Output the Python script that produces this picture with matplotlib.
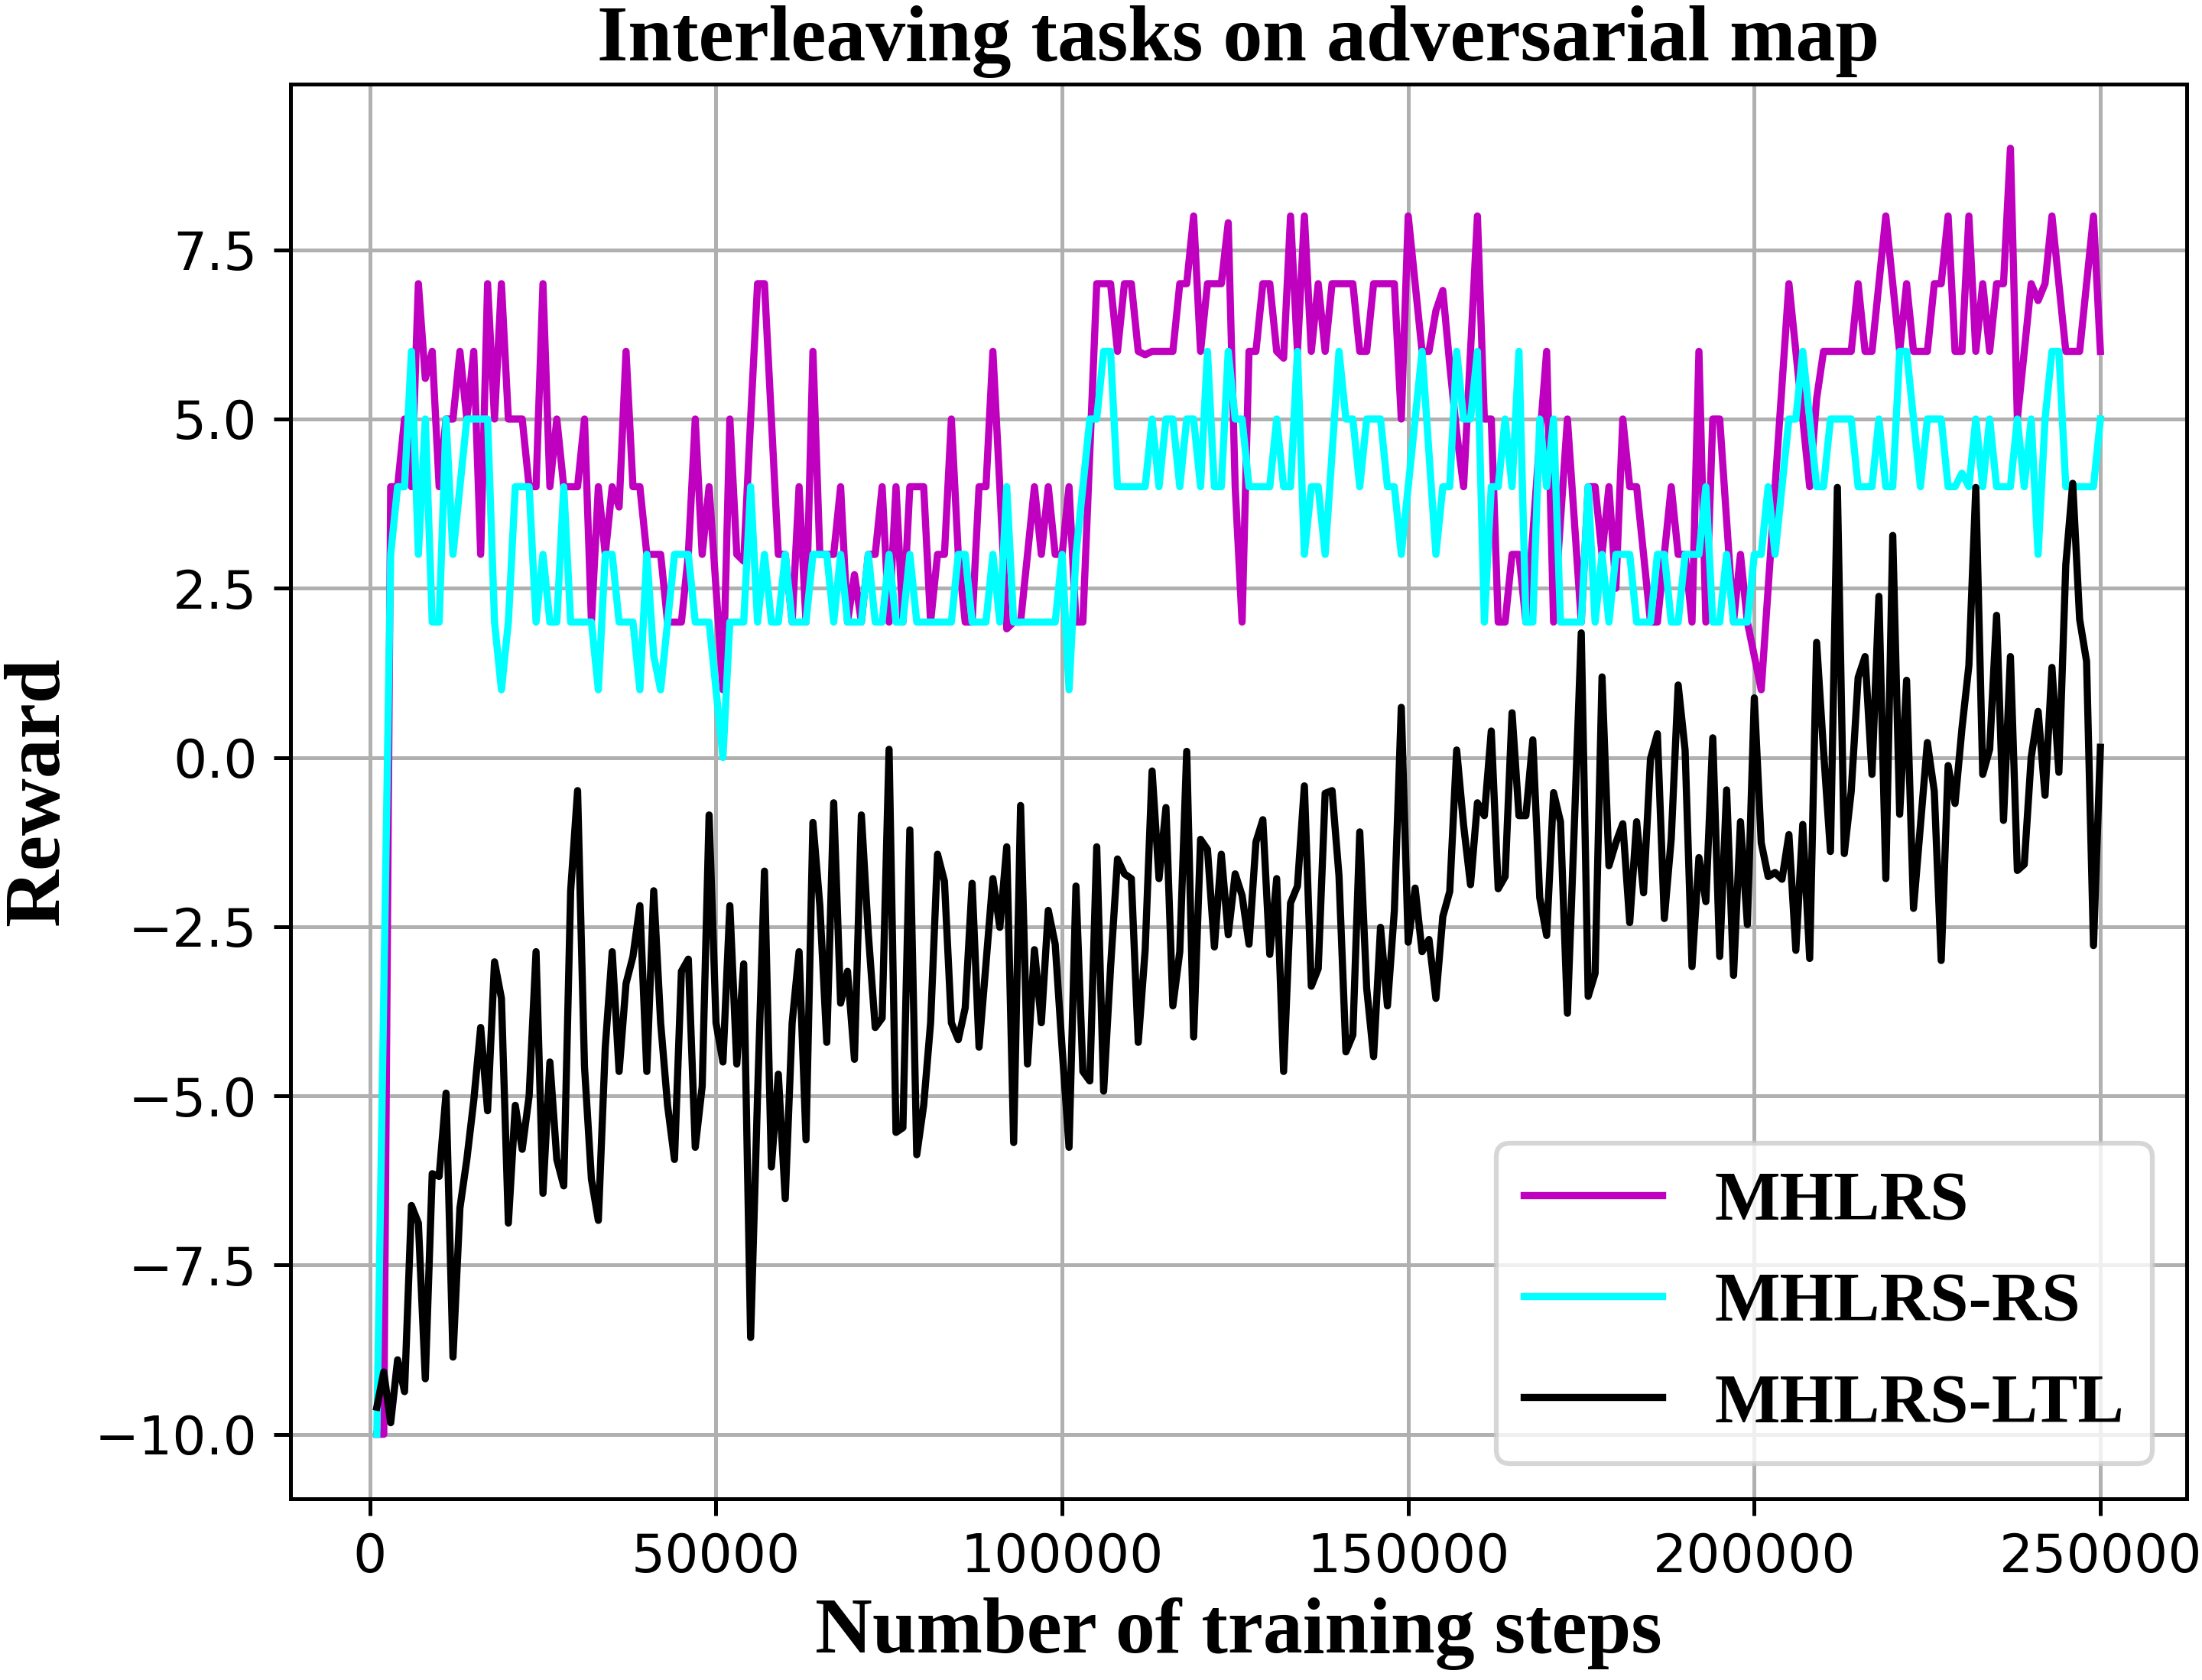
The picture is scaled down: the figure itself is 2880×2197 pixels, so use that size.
import numpy as np
import matplotlib
matplotlib.use("Agg")
import matplotlib.pyplot as plt

steps = np.arange(1, 251) * 1000

mhlrs = [
    -10, -10, 4, 4, 5, 4, 7, 5.6, 6, 4, 5, 5, 6, 5, 6, 3, 7, 5, 7, 5,
    5, 5, 4, 4, 7, 4, 5, 4, 4, 4, 5, 2, 4, 3, 4, 3.7, 6, 4, 4, 3,
    3, 3, 2, 2, 2, 3, 5, 3, 4, 2.5, 1, 5, 3, 2.9, 5, 7, 7, 5, 3, 3,
    2, 4, 2, 6, 3, 3, 3, 4, 2, 2.7, 2, 3, 3, 4, 2, 4, 2, 4, 4, 4,
    2, 3, 3, 5, 3, 2, 2, 4, 4, 6, 4, 1.9, 2, 2, 3, 4, 3, 4, 3, 3,
    4, 2, 2, 4.5, 7, 7, 7, 6, 7, 7, 6, 5.95, 6, 6, 6, 6, 7, 7, 8, 6,
    7, 7, 7, 7.9, 4, 2, 6, 6, 7, 7, 6, 5.9, 8, 6, 8, 6, 7, 6, 7, 7,
    7, 7, 6, 6, 7, 7, 7, 7, 5, 8, 7, 6, 6, 6.6, 6.9, 5.8, 4.8, 4, 6, 8,
    5, 5, 2, 2, 3, 3, 2, 3.3, 4.7, 6, 2, 3.5, 5, 3.5, 2, 4, 4, 3, 4, 2.5,
    5, 4, 4, 3, 2, 2, 3, 4, 3, 3, 2, 6, 2, 5, 5, 3.5, 2, 3, 2, 1.5,
    1, 2.5, 4, 5.5, 7, 6, 5, 4, 5.3, 6, 6, 6, 6, 6, 7, 6, 6, 7, 8, 7,
    6, 7, 6, 6, 6, 7, 7, 8, 6, 6, 8, 6, 7, 6, 7, 7, 9, 5, 6, 7,
    6.75, 7, 8, 7, 6, 6, 6, 7, 8, 6,
]

mhlrs_rs = [
    -10, -3.5, 3, 4, 4, 6, 3, 5, 2, 2, 5, 3, 4, 5, 5, 5, 5, 2, 1, 2,
    4, 4, 4, 2, 3, 2, 2, 4, 2, 2, 2, 2, 1, 3, 3, 2, 2, 2, 1, 3,
    1.5, 1, 2, 3, 3, 3, 2, 2, 2, 1, 0, 2, 2, 2, 4, 2, 3, 2, 2, 3,
    2, 2, 2, 3, 3, 3, 2, 3, 2, 2, 2, 3, 2, 2, 3, 2, 2, 3, 2, 2,
    2, 2, 2, 2, 3, 3, 2, 2, 2, 3, 2, 4, 2, 2, 2, 2, 2, 2, 2, 3,
    1, 3, 4, 5, 5, 6, 6, 4, 4, 4, 4, 4, 5, 4, 5, 5, 4, 5, 5, 4,
    6, 4, 4, 6, 5, 5, 4, 4, 4, 4, 5, 4, 4, 6, 3, 4, 4, 3, 4.5, 6,
    5, 5, 4, 5, 5, 5, 4, 4, 3, 4, 5, 6, 4.5, 3, 4, 4, 6, 5, 5, 6,
    2, 4, 4, 5, 4, 6, 2, 2, 5, 4, 5, 2, 2, 2, 2, 4, 2, 3, 2, 3,
    3, 3, 2, 2, 2, 3, 3, 2, 2, 3, 3, 3, 4, 2, 2, 3, 2, 2, 2, 3,
    3, 4, 3, 4, 5, 5, 6, 5, 4, 4, 5, 5, 5, 5, 4, 4, 4, 5, 4, 4,
    6, 6, 5, 4, 5, 5, 5, 4, 4, 4.2, 4, 5, 4, 5, 4, 4, 4, 5, 4, 5,
    3, 5, 6, 6, 4, 4, 4, 4, 4, 5,
]

mhlrs_ltl = [
    -9.6, -9.08, -9.83, -8.9, -9.37, -6.62, -6.88, -9.18, -6.15, -6.19,
    -4.96, -8.86, -6.66, -5.94, -5.07, -3.99, -5.22, -3.02, -3.56, -6.88,
    -5.14, -5.79, -5.0, -2.87, -6.44, -4.5, -5.94, -6.33, -1.97, -0.49,
    -4.57, -6.23, -6.84, -4.28, -2.87, -4.64, -3.34, -2.94, -2.19, -4.64,
    -1.97, -3.92, -5.14, -5.94, -3.16, -2.98, -5.76, -4.86, -0.85, -3.92,
    -4.5, -2.19, -4.53, -3.05, -8.57, -5.0, -1.68, -6.05, -4.68, -6.52,
    -3.92, -2.87, -5.65, -0.96, -2.19, -4.21, -0.67, -3.63, -3.16, -4.46,
    -0.85, -2.6, -3.99, -3.85, 0.12, -5.54, -5.47, -1.07, -5.87, -5.14,
    -3.92, -1.43, -1.83, -3.92, -4.17, -3.7, -1.86, -4.28, -3.05, -1.79,
    -2.51, -1.32, -5.69, -0.71, -4.53, -2.84, -3.92, -2.26, -2.76, -4.3,
    -5.76, -1.9, -4.64, -4.78, -1.32, -4.93, -3.1, -1.5, -1.72, -1.79,
    -4.21, -2.84, -0.2, -1.79, -0.74, -3.67, -2.87, 0.09, -4.13, -1.21,
    -1.36, -2.8, -1.43, -2.62, -1.72, -2.04, -2.76, -1.25, -0.92, -2.91,
    -1.79, -4.64, -2.15, -1.9, -0.42, -3.38, -3.12, -0.53, -0.49, -1.75,
    -4.35, -4.1, -1.1, -3.41, -4.42, -2.51, -3.67, -2.26, 0.74, -2.73,
    -1.93, -2.87, -2.69, -3.56, -2.35, -1.98, 0.11, -1.0, -1.88, -0.67,
    -0.86, 0.39, -1.94, -1.76, 0.66, -0.86, -0.86, 0.26, -2.07, -2.63,
    -0.52, -0.95, -3.78, -1.0, 1.84, -3.53, -3.19, 1.19, -1.6, -1.26,
    -0.98, -2.44, -0.95, -2.0, -0.02, 0.35, -2.38, -1.2, 1.07, 0.11,
    -3.09, -1.48, -2.13, 0.29, -2.94, -0.48, -3.22, -0.95, -2.47, 0.88,
    -1.26, -1.76, -1.7, -1.8, -1.14, -2.85, -0.99, -2.97, 1.7, 0.1,
    -1.39, 3.99, -1.42, -0.5, 1.18, 1.49, -0.25, 2.38, -1.79, 3.28,
    -0.84, 1.14, -2.23, -1.0, 0.22, -0.5, -3.0, -0.12, -0.68, 0.43,
    1.36, 3.99, -0.25, 0.12, 2.1, -0.93, 1.49, -1.67, -1.58, 0.0,
    0.68, -0.56, 1.33, -0.22, 2.85, 4.05, 2.04, 1.42, -2.78, 0.15,
]

series_labels = ["MHLRS", "MHLRS-RS", "MHLRS-LTL"]
series_colors = ["#bf00bf", "#00ffff", "#000000"]

title = "Interleaving tasks on adversarial map"
xlabel = "Number of training steps"
ylabel = "Reward"

serif_bold = dict(family="Liberation Serif", weight="bold")

fig = plt.figure(figsize=(6.4, 2197 / 450), dpi=450)
ax = fig.add_axes([0.132, 0.108, 0.861, 0.842])

for ys, lab, col in zip([mhlrs, mhlrs_rs, mhlrs_ltl], series_labels, series_colors):
    ax.plot(steps, ys, color=col, linewidth=1.5, label=lab)

ax.grid(True, color="#b0b0b0", linewidth=0.8)
ax.set_axisbelow(True)
ax.set_yticks([-10, -7.5, -5, -2.5, 0, 2.5, 5, 7.5])
ax.set_xticks([0, 50000, 100000, 150000, 200000, 250000])
ax.tick_params(labelsize=11.1)
ax.ticklabel_format(axis="x", style="plain")

ax.set_title(title, fontsize=16.6, pad=5, **serif_bold)
ax.set_xlabel(xlabel, fontsize=16.6, labelpad=3, **serif_bold)
ax.set_ylabel(ylabel, fontsize=16.6, labelpad=4, **serif_bold)

leg = ax.legend(loc="lower right", labelspacing=0.55, handletextpad=0.75,
                prop=dict(family="Liberation Serif", weight="bold", size=14.5))

fig.savefig("out.png", dpi=450)
